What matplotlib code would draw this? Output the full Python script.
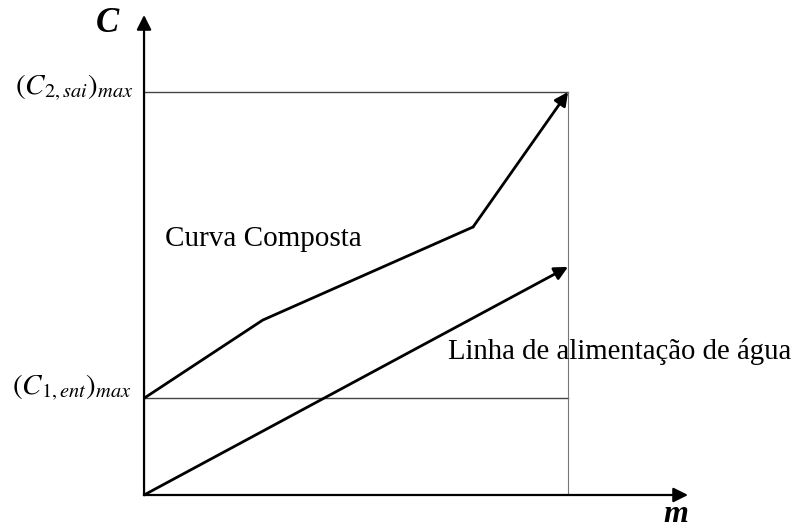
import matplotlib.pyplot as plt

plt.rcParams['font.family'] = ['Liberation Serif', 'DejaVu Serif']
plt.rcParams['mathtext.fontset'] = 'stix'

# dados (unidades arbitrarias)
m_max = 10.0
c1_ent_max = 2.4
c2_sai_max = 10.0
curva_m = [0.0, 2.8, 7.76, 10.0]
curva_c = [2.4, 4.34, 6.65, 10.0]
linha_m = [0.0, 10.0]
linha_c = [0.0, 5.66]

fig = plt.figure(figsize=(7.98, 5.31), dpi=100)
ax = fig.add_axes([0.1805, 0.0678, 0.6817, 0.904])
ax.set_xlim(0, 12.83)
ax.set_ylim(0, 11.91)
ax.axis('off')

# eixos com setas
ap = dict(arrowstyle='-|>', color='black', lw=1.6, mutation_scale=22,
          shrinkA=0, shrinkB=0)
ax.annotate('', xy=(12.83, 0), xytext=(0, 0), arrowprops=ap)
ax.annotate('', xy=(0, 11.91), xytext=(0, 0), arrowprops=ap)

# linhas de referencia
ax.plot([0, m_max], [c2_sai_max, c2_sai_max], color='#444444', lw=1.0)
ax.plot([0, m_max], [c1_ent_max, c1_ent_max], color='#444444', lw=1.0)
ax.plot([m_max, m_max], [0, c2_sai_max], color='#777777', lw=0.8)

# curva composta
ax.plot(curva_m[:-1], curva_c[:-1], color='black', lw=2.0, solid_capstyle='round')
ax.annotate('', xy=(curva_m[-1], curva_c[-1]), xytext=(curva_m[-2], curva_c[-2]),
            arrowprops=dict(arrowstyle='-|>', color='black', lw=2.0,
                            mutation_scale=20, shrinkA=0, shrinkB=0))

# linha de alimentacao de agua
ax.annotate('', xy=(linha_m[1], linha_c[1]), xytext=(linha_m[0], linha_c[0]),
            arrowprops=dict(arrowstyle='-|>', color='black', lw=2.0,
                            mutation_scale=20, shrinkA=0, shrinkB=0))

# textos
ax.text(-0.25, c2_sai_max + 0.1, r'$(C_{2,sai})_{max}$', ha='right', va='center',
        fontsize=21, clip_on=False)
ax.text(-0.3, c1_ent_max + 0.25, r'$(C_{1,ent})_{max}$', ha='right', va='center',
        fontsize=21, clip_on=False)
ax.text(-0.87, 11.7, 'C', ha='center', va='center', fontsize=25,
        fontweight='bold', style='italic', clip_on=False)
ax.text(12.55, -0.66, 'm', ha='center', va='baseline', fontsize=23,
        fontweight='bold', style='italic', clip_on=False)
ax.text(0.5, 6.35, 'Curva Composta', ha='left', va='center', fontsize=21)
ax.text(7.17, 3.55, 'Linha de alimentação de água', ha='left', va='center',
        fontsize=20.7, clip_on=False)

fig.savefig('out.png', dpi=100)
